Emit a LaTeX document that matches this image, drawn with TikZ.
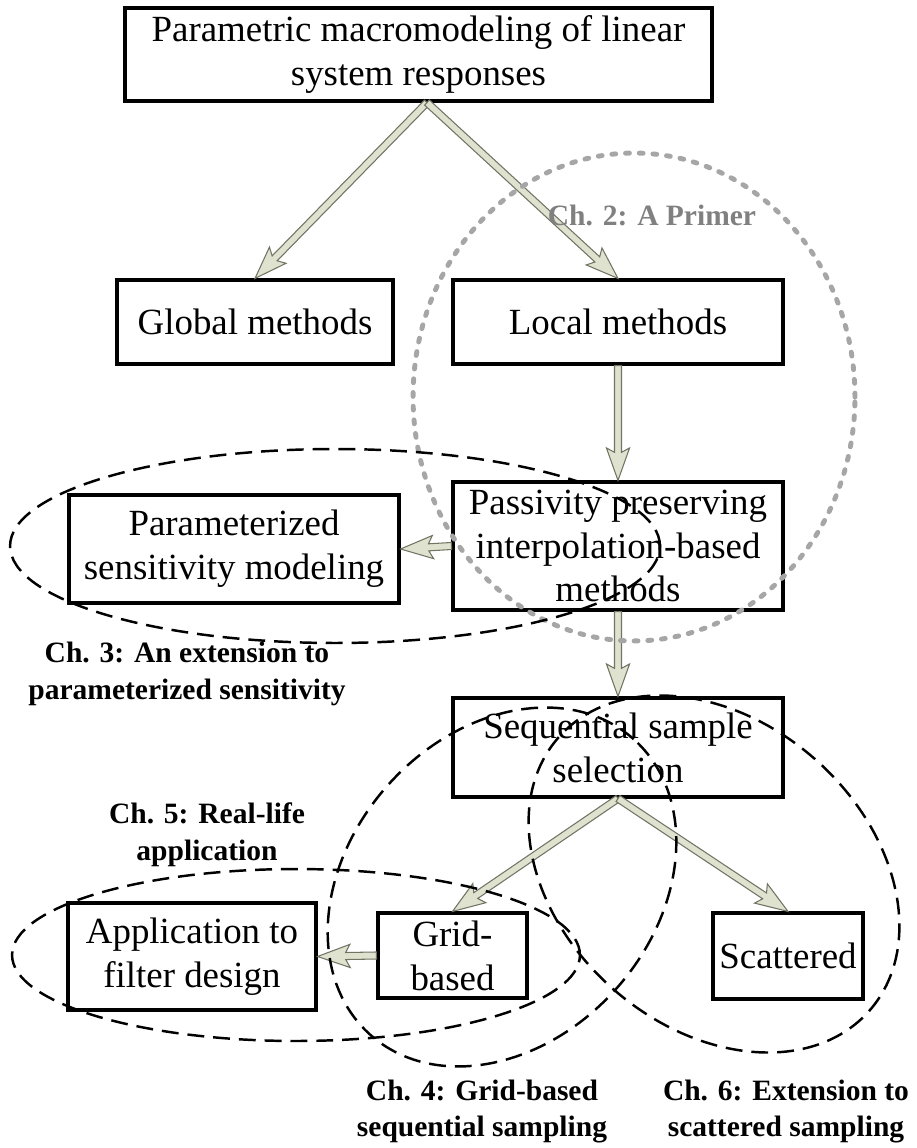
\documentclass[tikz,border=0pt]{standalone}
\usepackage{fontspec}
\setmainfont{Liberation Serif}
\usetikzlibrary{calc}

\definecolor{arrowfill}{RGB}{222,226,206}
\definecolor{arrowedge}{RGB}{112,116,100}
\definecolor{primergray}{RGB}{166,166,166}
\definecolor{primertext}{RGB}{128,128,128}

% hollow block arrow between two named points
\newcommand{\blockarrow}[2]{%
  \path (#1) coordinate (ba-s) (#2) coordinate (ba-e);
  \path ($(ba-e)!16pt!(ba-s)$) coordinate (ba-h)
        ($(ba-e)!18.5pt!(ba-s)$) coordinate (ba-b);
  \draw[blockarrowstyle]
    ($(ba-s)!2pt!90:(ba-e)$) -- ($(ba-h)!2pt!90:(ba-e)$)
    -- ($(ba-b)!6.6pt!90:(ba-e)$) -- (ba-e)
    -- ($(ba-b)!6.6pt!-90:(ba-e)$) -- ($(ba-h)!2pt!-90:(ba-e)$)
    -- ($(ba-s)!2pt!-90:(ba-e)$) -- cycle;
}

\tikzset{
  box/.style={draw=black, line width=1.8pt, inner sep=0pt, align=center,
              font=\fontsize{21}{25}\selectfont},
  blockarrowstyle/.style={draw=arrowedge, fill=arrowfill, line width=0.6pt,
              line join=miter},
  chapter/.style={draw=black, line width=1.4pt, dash pattern=on 9.6pt off 5.1pt},
  primer/.style={draw=primergray, line width=2.8pt, line cap=round,
              dash pattern=on 2.2pt off 5.6pt},
  chlabel/.style={align=center, inner sep=0pt,
              font=\fontsize{16.8}{21}\selectfont\bfseries},
}

\begin{document}
\begin{tikzpicture}[x=0.02cm, y=-0.02cm]
\useasboundingbox (0,0) rectangle (916,1148);

% boxes
\node[box, minimum width=11.74cm, minimum height=1.86cm] (top) at (418.5,54.5)
  {Parametric macromodeling of linear\\system responses};
\node[box, minimum width=5.52cm, minimum height=1.68cm] (glob) at (255,322)
  {Global methods};
\node[box, minimum width=6.6cm, minimum height=1.68cm] (loc) at (618,322)
  {Local methods};
\node[box, minimum width=6.6cm, minimum height=2.56cm] (pass) at (618,546)
  {Passivity preserving\\interpolation-based\\methods};
\node[box, minimum width=6.6cm, minimum height=2.16cm] (param) at (234,549)
  {Parameterized\\sensitivity modeling};
\node[box, minimum width=6.6cm, minimum height=1.98cm] (seq) at (618,747.5)
  {Sequential sample\\selection};
\node[box, minimum width=2.98cm, minimum height=1.7cm] (grid) at (452.5,955.5)
  {Grid-\\based};
\node[box, minimum width=3.0cm, minimum height=1.72cm] (scat) at (788,956)
  {Scattered};
\node[box, minimum width=4.96cm, minimum height=2.14cm] (app) at (192,956.5)
  {Application to\\filter design};

% connectors
\blockarrow{$(top.south)+(8.5,0)$}{glob.north}
\blockarrow{$(top.south)+(8.5,0)$}{loc.north}
\blockarrow{loc.south}{pass.north}
\blockarrow{pass.west}{param.east}
\blockarrow{pass.south}{seq.north}
\blockarrow{seq.south}{grid.north}
\blockarrow{seq.south}{scat.north}
\blockarrow{grid.west}{app.east}

% chapter groupings
\draw[primer] (634,397) ellipse [x radius=4.42cm, y radius=4.88cm];
\draw[chapter] (335,546) ellipse [x radius=6.5cm, y radius=1.94cm];
\draw[chapter] (296,955) ellipse [x radius=5.68cm, y radius=1.72cm];
\draw[chapter, rotate around={48.3:(502,887)}] (502,887)
  ellipse [x radius=3.96cm, y radius=3.06cm];
\draw[chapter, rotate around={-41.3:(714,874)}] (714,874)
  ellipse [x radius=4.14cm, y radius=3.06cm];

% chapter labels
\node[chlabel, text=primertext] (l2) at (652,215) {Ch. 2: A Primer};
\node[chlabel] (l3) at (187,673.5) {Ch. 3: An extension to\\parameterized sensitivity};
\node[chlabel] (l5) at (207,835) {Ch. 5: Real-life\\application};
\node[chlabel] (l4) at (482,1111.5) {Ch. 4: Grid-based\\sequential sampling};
\node[chlabel] (l6) at (786,1111.5) {Ch. 6: Extension to\\scattered sampling};
\end{tikzpicture}
\end{document}
